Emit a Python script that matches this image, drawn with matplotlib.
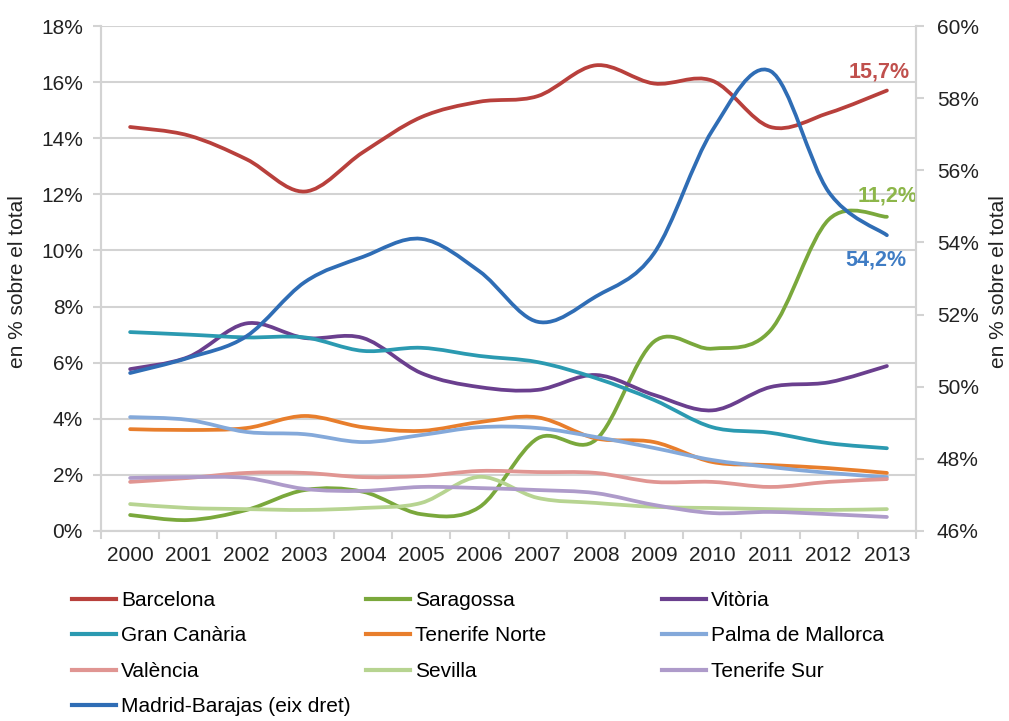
import numpy as np
import matplotlib
matplotlib.use("Agg")
import matplotlib.pyplot as plt
from matplotlib.path import Path
from matplotlib.patches import PathPatch
from matplotlib.lines import Line2D

plt.rcParams["font.family"] = ["Liberation Sans", "DejaVu Sans"]

# Data (% sobre el total)
years = [str(y) for y in range(2000, 2014)]
barcelona = [14.4, 14.1, 13.25, 12.1, 13.5, 14.75, 15.3, 15.5, 16.6, 15.95, 16.05, 14.4, 14.9, 15.7]
saragossa = [0.57, 0.39, 0.75, 1.46, 1.4, 0.6, 0.85, 3.3, 3.25, 6.75, 6.5, 7.15, 11.1, 11.2]
vitoria = [5.77, 6.2, 7.4, 6.88, 6.88, 5.63, 5.13, 5.03, 5.56, 4.85, 4.3, 5.13, 5.3, 5.88]
gran_canaria = [7.09, 7.0, 6.9, 6.9, 6.42, 6.53, 6.24, 6.02, 5.45, 4.67, 3.7, 3.5, 3.13, 2.95]
tenerife_norte = [3.63, 3.6, 3.67, 4.1, 3.7, 3.57, 3.88, 4.05, 3.3, 3.17, 2.46, 2.35, 2.24, 2.07]
palma = [4.06, 3.96, 3.53, 3.45, 3.17, 3.42, 3.7, 3.67, 3.35, 2.96, 2.53, 2.28, 2.07, 1.92]
valencia = [1.75, 1.89, 2.07, 2.07, 1.92, 1.96, 2.14, 2.1, 2.07, 1.75, 1.75, 1.57, 1.75, 1.85]
sevilla = [0.96, 0.82, 0.78, 0.75, 0.82, 1.0, 1.93, 1.18, 1.0, 0.86, 0.82, 0.78, 0.75, 0.78]
tenerife_sur = [1.89, 1.92, 1.89, 1.5, 1.43, 1.57, 1.53, 1.46, 1.35, 0.93, 0.64, 0.68, 0.6, 0.5]
madrid = [50.38, 50.8, 51.4, 52.9, 53.6, 54.1, 53.2, 51.8, 52.5, 53.7, 57.1, 58.75, 55.4, 54.2]

left_series = [
    ("Barcelona", barcelona, "#B8403C"),
    ("Saragossa", saragossa, "#7AA83C"),
    ("Vitòria", vitoria, "#6A3F8E"),
    ("Gran Canària", gran_canaria, "#2B9AB1"),
    ("Tenerife Norte", tenerife_norte, "#E87E2C"),
    ("Palma de Mallorca", palma, "#84A9DA"),
    ("València", valencia, "#E09592"),
    ("Sevilla", sevilla, "#B7D491"),
    ("Tenerife Sur", tenerife_sur, "#AE9BCA"),
]
madrid_label = "Madrid-Barajas (eix dret)"
madrid_color = "#2F6DB5"

x = np.arange(len(years))


# Excel-style smoothed line as cubic Bezier segments
def smooth_path(xs, ys):
    pts = np.column_stack([xs, ys]).astype(float)
    n = len(pts)
    verts = [pts[0]]
    codes = [Path.MOVETO]
    for i in range(n - 1):
        p0 = pts[max(i - 1, 0)]
        p1 = pts[i]
        p2 = pts[i + 1]
        p3 = pts[min(i + 2, n - 1)]
        verts += [p1 + (p2 - p0) / 6, p2 - (p3 - p1) / 6, p2]
        codes += [Path.CURVE4] * 3
    return Path(verts, codes)


def draw(ax, ys, color):
    patch = PathPatch(smooth_path(x, ys), fill=False, edgecolor=color, lw=2.7,
                      capstyle="round", joinstyle="round")
    ax.add_patch(patch)


fs = 15
fig = plt.figure(figsize=(10.09, 7.21), dpi=100)
ax = fig.add_axes([101 / 1009, 1 - 531 / 721, (916 - 101) / 1009, (531 - 26) / 721])
ax2 = ax.twinx()

for name, ys, c in left_series:
    draw(ax, ys, c)
draw(ax2, madrid, madrid_color)

grid_c = "#D3D3D3"
ax.set_xlim(-0.5, len(years) - 0.5)
ax.set_ylim(0, 18)
ax2.set_ylim(46, 60)
ax.set_yticks(np.arange(0, 19, 2))
ax.set_yticklabels([f"{v}%" for v in range(0, 19, 2)])
ax2.set_yticks(np.arange(46, 61, 2))
ax2.set_yticklabels([f"{v}%" for v in range(46, 61, 2)])
ax.yaxis.grid(True, color=grid_c, lw=1.5)
ax.set_axisbelow(True)

ax.set_xticks(np.arange(-0.5, len(years), 1))
ax.set_xticklabels([])
ax.set_xticks(x, minor=True)
ax.set_xticklabels(years, minor=True)
ax.tick_params(axis="x", which="minor", length=0, pad=11, labelsize=fs, labelcolor="#222222")
ax.tick_params(axis="x", which="major", length=6, color=grid_c, width=1.5)
ax.tick_params(axis="y", length=6, color=grid_c, width=1.5, labelsize=fs, pad=7,
               labelcolor="#222222")
ax2.tick_params(axis="y", length=6, color=grid_c, width=1.5, labelsize=fs, pad=9,
                labelcolor="#222222")

for a in (ax, ax2):
    a.spines["top"].set_visible(False)
    for s in ("left", "right", "bottom"):
        a.spines[s].set_color(grid_c)
        a.spines[s].set_linewidth(1.5)

fig.text(18 / 1009, 1 - 282 / 721, "en % sobre el total", rotation=90, fontsize=fs,
         ha="center", va="center", color="#222222")
fig.text(998 / 1009, 1 - 282 / 721, "en % sobre el total", rotation=90, fontsize=fs,
         ha="center", va="center", color="#222222")

# End labels
ax.text(x[-1] + 0.4, 16.36, "15,7%", color="#C0504D", fontsize=15.5,
        fontweight="bold", ha="right", va="center")
ax.text(x[-1] + 0.52, 11.94, "11,2%", color="#8DB64A", fontsize=15.5,
        fontweight="bold", ha="right", va="center")
ax2.text(x[-1] + 0.34, 53.51, "54,2%", color="#3F7CC4", fontsize=15.5,
         fontweight="bold", ha="right", va="center")

# Legend laid out in three columns, row-major as in the original
handles = [Line2D([], [], color=c, lw=3) for _, _, c in left_series]
labels = [n for n, _, _ in left_series]
handles.append(Line2D([], [], color=madrid_color, lw=3))
labels.append(madrid_label)
col_x = [72 / 1009, 366 / 1009, 662 / 1009]
for ci in range(3):
    idx = list(range(ci, len(labels), 3))
    fig.legend([handles[i] for i in idx], [labels[i] for i in idx],
               loc="upper left", bbox_to_anchor=(col_x[ci], 1 - 591 / 721),
               frameon=False, fontsize=fs, handlelength=2.1, handletextpad=0.25,
               labelspacing=0.79, borderaxespad=0, borderpad=0)

fig.savefig("out.png", dpi=100)
